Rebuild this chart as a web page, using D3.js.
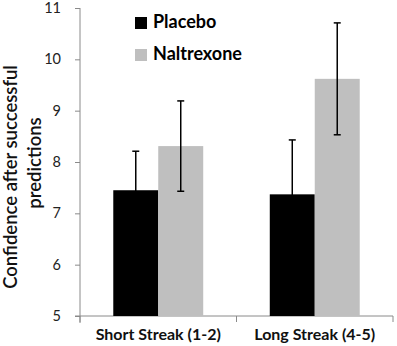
<!DOCTYPE html>
<html>
<head>
<meta charset="utf-8">
<script src="https://cdn.jsdelivr.net/npm/d3@7"></script>
<style>
  body { margin: 0; background: #fff; }
  svg { display: block; font-family: Lato, "Open Sans", sans-serif; }
</style>
</head>
<body>
<svg id="chart" width="397" height="346"></svg>
<script>
"use strict";

// data
const categories = [ 'Short Streak (1-2)', 'Long Streak (4-5)' ];
const series     = [ 'Placebo', 'Naltrexone' ];
const means      = { 'Placebo': [ 7.45, 7.37 ], 'Naltrexone': [ 8.31, 9.62 ] };
const errors     = { 'Placebo': [ 0.76, 1.06 ], 'Naltrexone': [ 0.88, 1.09 ] };
const yTicks     = [ 5, 6, 7, 8, 9, 10, 11 ];
const colors     = [ '#000000', '#bfbfbf' ];

const svg = d3.select( '#chart' );

// plot area
const plot = { left: 80, right: 393, top: 8, bottom: 316 };

const x = d3.scaleBand()
            .domain( categories )
            .range( [ plot.left, plot.right ] );

const xs = d3.scaleBand()
             .domain( series )
             .range( [ 0, x.bandwidth() ] )
             .paddingOuter( 0.74 );

const y = d3.scaleLinear()
            .domain( [ 5, 11 ] )
            .range( [ plot.bottom, plot.top ] );

const color = d3.scaleOrdinal( series, colors );

// y axis
const yAxis = svg.append( 'g' )
                 .attr( 'transform', `translate(${plot.left},0)` )
                 .call( d3.axisLeft( y )
                          .tickValues( yTicks )
                          .tickFormat( d3.format( 'd' ) )
                          .tickSize( 5 )
                          .tickSizeOuter( 0 )
                          .tickPadding( 14 ) );
yAxis.select( '.domain' ).attr( 'stroke', '#8a8a8a' ).attr( 'd', `M0,${plot.top}V${plot.bottom + 7}` );
yAxis.selectAll( '.tick line' ).attr( 'stroke', '#8a8a8a' );
yAxis.selectAll( '.tick text' )
     .attr( 'fill', '#222' )
     .style( 'font-size', '14.5px' )
     .style( 'font-family', 'Lato, sans-serif' );

// x axis
const xAxis = svg.append( 'g' )
                 .attr( 'transform', `translate(0,${plot.bottom})` );
xAxis.append( 'path' )
     .attr( 'd', `M${plot.left - 5},0H${plot.right}` )
     .attr( 'stroke', '#8a8a8a' );
xAxis.selectAll( 'line' )
     .data( [ plot.left ].concat( categories.map( (c) => x(c) + x.bandwidth() ) ) )
     .enter().append( 'line' )
       .attr( 'x1', (d) => d ).attr( 'x2', (d) => d )
       .attr( 'y1', 0 ).attr( 'y2', 6 )
       .attr( 'stroke', '#8a8a8a' );
xAxis.selectAll( 'text' )
     .data( categories )
     .enter().append( 'text' )
       .attr( 'x', (d) => x(d) + x.bandwidth() / 2 )
       .attr( 'y', 24 )
       .attr( 'text-anchor', 'middle' )
       .attr( 'fill', '#111' )
       .style( 'font-size', '16px' )
       .style( 'font-weight', 'bold' )
       .text( (d) => d );

// bars
const rows = [];
series.forEach( (s) => categories.forEach( (c, i) => rows.push( { s: s, c: c, v: means[s][i], e: errors[s][i] } ) ) );

const bars = svg.append( 'g' );
bars.selectAll( 'rect' )
    .data( rows )
    .enter().append( 'rect' )
      .attr( 'x', (d) => x(d.c) + xs(d.s) )
      .attr( 'y', (d) => y(d.v) )
      .attr( 'width', xs.bandwidth() )
      .attr( 'height', (d) => y(5) - y(d.v) )
      .attr( 'fill', (d) => color(d.s) );

// error bars
const err = svg.append( 'g' )
               .attr( 'stroke', '#000' )
               .attr( 'stroke-width', 1.5 );
rows.forEach( (d) => {
  const cx = x(d.c) + xs(d.s) + xs.bandwidth() / 2;
  err.append( 'line' )
     .attr( 'x1', cx ).attr( 'x2', cx )
     .attr( 'y1', y(d.v - d.e) ).attr( 'y2', y(d.v + d.e) );
  [ d.v - d.e, d.v + d.e ].forEach( (v) => {
    err.append( 'line' )
       .attr( 'x1', cx - 3.5 ).attr( 'x2', cx + 3.5 )
       .attr( 'y1', y(v) ).attr( 'y2', y(v) );
  });
});

// legend
const legend = svg.append( 'g' )
                  .selectAll( 'g' )
                  .data( series )
                  .enter().append( 'g' )
                    .attr( 'transform', (d, i) => `translate(135,${17 + i * 32})` );
legend.append( 'rect' )
      .attr( 'width', 12 ).attr( 'height', 12 )
      .attr( 'fill', (d) => color(d) );
legend.append( 'text' )
      .attr( 'x', 18 ).attr( 'y', 11 )
      .attr( 'fill', '#000' )
      .style( 'font-size', '18px' )
      .style( 'font-weight', 'bold' )
      .text( (d) => d );

// y axis title
const title = svg.append( 'g' ).attr( 'fill', '#111' )
                 .style( 'font-size', '18.5px' )
                 .style( 'font-weight', '600' );
title.append( 'text' )
     .attr( 'transform', 'translate(17,177) rotate(-90)' )
     .attr( 'text-anchor', 'middle' )
     .text( 'Confidence  after successful' );
title.append( 'text' )
     .attr( 'transform', 'translate(41,163) rotate(-90)' )
     .attr( 'text-anchor', 'middle' )
     .text( 'predictions' );
</script>
</body>
</html>
